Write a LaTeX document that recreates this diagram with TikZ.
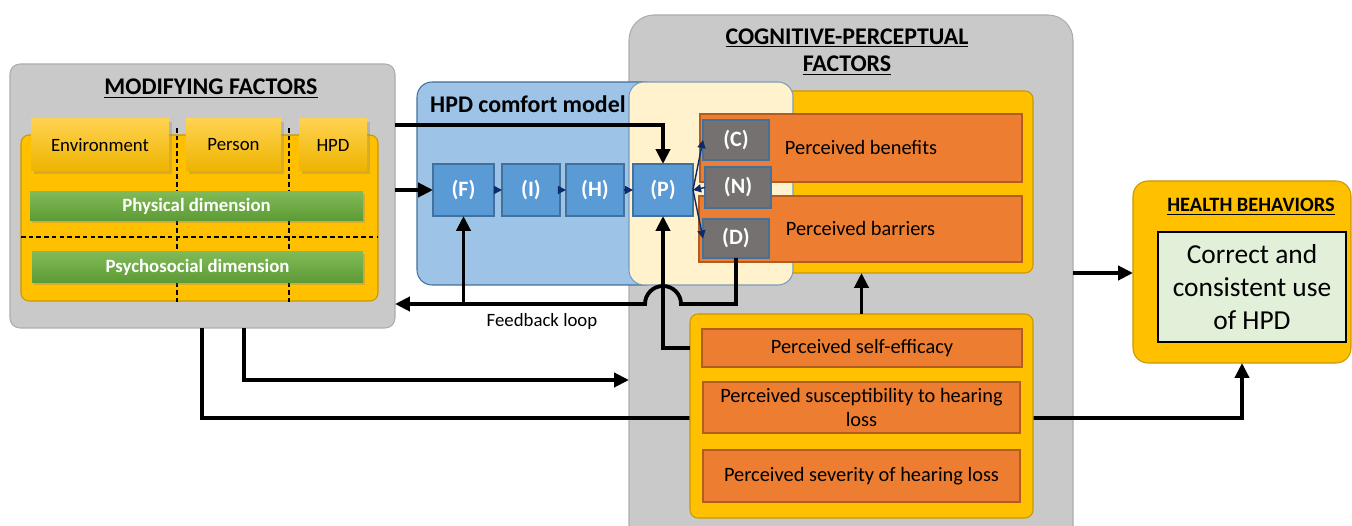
\documentclass[tikz,border=0pt]{standalone}
\usepackage{fontspec}
\setmainfont{Carlito}
\usetikzlibrary{arrows.meta,shadows}

\definecolor{boxgray}{HTML}{C9C9C9}
\definecolor{graybord}{HTML}{ADADAD}
\definecolor{gold}{HTML}{FFC000}
\definecolor{goldbord}{HTML}{C99700}
\definecolor{orng}{HTML}{ED7D31}
\definecolor{orngbord}{HTML}{B15D22}
\definecolor{skyfill}{HTML}{9DC3E6}
\definecolor{stepblue}{HTML}{5B9BD5}
\definecolor{bordblue}{HTML}{41719C}
\definecolor{creamfill}{HTML}{FFF2CC}
\definecolor{slate}{HTML}{767171}
\definecolor{arrownavy}{HTML}{0E2A6B}
\definecolor{mint}{HTML}{E2F0D9}

\newcommand\fsmain{\fontsize{11.6}{13.6}\selectfont}
\newcommand\fslabel{\fontsize{12.5}{14}\selectfont}
\newcommand\fssmall{\fontsize{10.7}{12.5}\selectfont}
\newcommand\fstitle{\fontsize{13.6}{15.9}\selectfont}
\newcommand\fshb{\fontsize{11.6}{13.5}\selectfont}
\newcommand\fsbig{\fontsize{15.6}{18.7}\selectfont}

\tikzset{
  % box spanning the corners (x1,y1) and (x2,y2), in pixel units
  spot/.style n args={4}{inner sep=0pt, outer sep=0pt,
    minimum width={(#3-#1)*0.02cm}, minimum height={(#4-#2)*0.02cm},
    at={({(#1+#3)/2},{(#2+#4)/2})}},
  greybox/.style={draw=graybord, fill=boxgray, line width=0.6pt, rounded corners=0.2cm},
  goldbox/.style={draw=goldbord, fill=gold, line width=0.6pt, rounded corners=0.16cm},
  orngbox/.style={draw=orngbord, fill=orng, line width=0.6pt, font=\fsmain, align=center},
  stepbox/.style={draw=bordblue, fill=stepblue, line width=0.6pt, text=white, font=\fslabel\bfseries},
  slatebox/.style={stepbox, fill=slate},
  tabbox/.style={top color={rgb,255:red,255;green,210;blue,80}, bottom color={rgb,255:red,238;green,180;blue,0},
    drop shadow={shadow xshift=1.5pt, shadow yshift=-1.5pt, opacity=0.3}, font=\fssmall},
  dimbar/.style={top color={rgb,255:red,128;green,186;blue,88}, bottom color={rgb,255:red,92;green,154;blue,52},
    drop shadow={shadow xshift=1.2pt, shadow yshift=-1.2pt, opacity=0.3}, text=white, font=\fssmall\bfseries},
  splitline/.style={line width=0.9pt, dash pattern=on 2.6pt off 1.8pt},
  heading/.style={font=\fstitle\bfseries, align=center},
  flow/.style={line width=2.2pt, -{Triangle[length=8.5pt,width=8pt]}},
  thinflow/.style={draw=arrownavy, line width=0.8pt, -{Triangle[length=4.6pt,width=4.6pt]}},
}

\begin{document}
\begin{tikzpicture}[x=0.02cm,y=-0.02cm]
\clip (0,0) rectangle (1352,526);

% cognitive-perceptual panel, runs off the bottom
\node[greybox, rounded corners=0.5cm, spot={629}{15}{1073}{560}] (cogn) {};
\node[heading] (cogntitle) at (847,52) {\underline{COGNITIVE-PERCEPTUAL}\\\underline{FACTORS}};
\node[goldbox, spot={700}{91}{1033}{273}] (upyel) {};

% comfort model
\node[draw=bordblue, fill=skyfill, line width=0.6pt, rounded corners=0.3cm, spot={417}{82}{660}{285}] (hpd) {};
\node[heading, anchor=west] (hpdtitle) at (424,104) {HPD comfort model};
\node[draw=bordblue!70, fill=creamfill, line width=0.6pt, rounded corners=0.3cm, spot={629}{82}{793}{285}] (cream) {};

\node[orngbox, spot={700}{114}{1022}{182}] (benef) {Perceived benefits};
\node[orngbox, spot={699}{196}{1022}{262}] (barr) {Perceived barriers};

\node[slatebox, spot={703}{120}{769}{160}] (cbox) {(C)};
\node[slatebox, spot={705}{167}{771}{208}] (nbox) {(N)};
\node[slatebox, spot={703}{219}{769}{258}] (dbox) {(D)};

\node[stepbox, spot={433}{164}{494}{216}] (fbox) {(F)};
\node[stepbox, spot={502}{164}{560}{216}] (ibox) {(I)};
\node[stepbox, spot={566}{164}{624}{216}] (hbox) {(H)};
\node[stepbox, spot={633}{164}{693}{216}] (pbox) {(P)};

\draw[thinflow] (fbox) -- (ibox);
\draw[thinflow] (ibox) -- (hbox);
\draw[thinflow] (hbox) -- (pbox);
\draw[thinflow] (pbox.east) -- (cbox.west);
\draw[thinflow] (pbox.east) -- (dbox.west);
\draw[thinflow] (nbox.west) -- (pbox.east);

% modifying factors
\node[greybox, spot={10}{64}{395}{328}] (modf) {};
\node[heading] (modftitle) at (211,89) {\underline{MODIFYING FACTORS}};
\node[goldbox, spot={21}{135}{378}{301}] (modyel) {};
\draw[splitline] (177,128) -- (177,302);
\draw[splitline] (289,128) -- (289,302);
\draw[splitline] (modyel.west |- 0,237) -- (modyel.east |- 0,237);
\node[tabbox, spot={31}{119}{169}{171}] (env) {Environment};
\node[tabbox, spot={186}{119}{281}{171}] (person) {Person};
\node[tabbox, spot={299}{119}{367}{171}] (hpdtab) {HPD};
\node[dimbar, spot={30}{192}{363}{221}] (phys) {Physical dimension};
\node[dimbar, spot={32}{252}{363}{283}] (psych) {Psychosocial dimension};

% health behaviors
\node[goldbox, rounded corners=0.3cm, spot={1133}{181}{1351}{363}] (health) {};
\node[font=\fshb\bfseries] (healthtitle) at (1251,207) {\underline{HEALTH BEHAVIORS}};
\node[draw=black, fill=mint, line width=0.8pt, spot={1158}{232}{1346}{342}, align=center, font=\fsbig] (use) {Correct and\\consistent use\\of HPD};

% connectors
\draw[flow] (modf.south -| 202,0) -- (202,418) -| (health.south);
\draw[flow] (modf.south -| 244,0) |- (cogn.west |- 0,380);
\draw[flow] (modf.east |- 0,125) -| (pbox.north);
\draw[flow] (modf.east |- fbox.west) -- (fbox.west);
\draw[flow] (dbox.south) |- (681,304) arc[start angle=0, end angle=-180, radius=18] -- (modf.east |- 0,304);
\draw[flow] (fbox.south |- 0,304) -- (fbox.south);
\draw[flow] (cogn.east |- 0,273) -- (health.west |- 0,273);
\node[font=\fssmall] (fblabel) at (542,321) {Feedback loop};

% lower perceptions block
\node[goldbox, spot={690}{314}{1033}{518}] (lowyel) {};
\node[orngbox, spot={702}{329}{1022}{367}] (selfeff) {Perceived self-efficacy};
\node[orngbox, spot={703}{382}{1020}{433}] (suscept) {Perceived susceptibility to hearing\\loss};
\node[orngbox, spot={703}{450}{1020}{502}] (sever) {Perceived severity of hearing loss};

\draw[flow] (lowyel.west |- selfeff.west) -| (pbox.south);
\draw[flow] (lowyel.north) -- (lowyel.north |- upyel.south);
\end{tikzpicture}
\end{document}
